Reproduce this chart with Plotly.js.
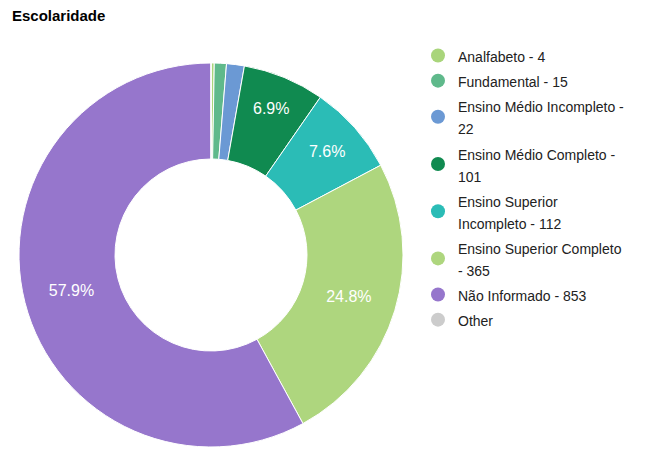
<!DOCTYPE html>
<html>
<head>
<meta charset="utf-8">
<script src="https://cdn.plot.ly/plotly-3.0.1.min.js"></script>
<style>html,body{margin:0;padding:0;background:#fff;}#chart{width:645px;height:450px;}</style>
</head>
<body>
<div id="chart"></div>
<script>
var categories = ["Analfabeto", "Fundamental", "Ensino Médio Incompleto", "Ensino Médio Completo", "Ensino Superior Incompleto", "Ensino Superior Completo", "Não Informado", "Other"];
var counts = [4, 15, 22, 101, 112, 365, 853, 0];
var showCount = [true, true, true, true, true, true, true, false];
var colors = ["#a9d57b", "#5fb98b", "#6b99d4", "#108a50", "#2bbcb6", "#aed67e", "#9676cc", "#cccccc"];

var total = counts.reduce(function(a, b){ return a + b; }, 0);

function wrap(s, maxChars) {
  var words = s.split(" "), lines = [], cur = "";
  words.forEach(function(w){
    var t = cur ? cur + " " + w : w;
    if (t.length > maxChars && cur) { lines.push(cur); cur = w; } else { cur = t; }
  });
  if (cur) lines.push(cur);
  return lines.join("<br>");
}

var legendLabels = categories.map(function(c, i){
  var s = showCount[i] ? c + " - " + counts[i] : c;
  return '<span style="font-size:14px">' + wrap(s, 25) + '</span>';
});

var templates = counts.map(function(v){ return (v / total >= 0.05) ? "%{percent:.1%}" : ""; });

var traces = [{
  type: "pie",
  labels: categories,
  values: counts,
  sort: false,
  direction: "clockwise",
  rotation: 0,
  hole: 0.5,
  marker: {colors: colors, line: {color: "#ffffff", width: 1}},
  texttemplate: templates,
  textposition: "inside",
  insidetextorientation: "horizontal",
  textfont: {family: "Liberation Sans, Arial, sans-serif", size: 16, color: "#ffffff"},
  showlegend: false,
  hoverinfo: "label+value+percent",
  domain: {x: [19/645, 403/645], y: [3/450, 387/450]}
}];

categories.forEach(function(c, i){
  traces.push({
    type: "scatter",
    mode: "markers",
    x: [null], y: [null],
    name: legendLabels[i],
    marker: {symbol: "circle", size: 14, color: colors[i], line: {width: 0}},
    showlegend: true,
    hoverinfo: "skip"
  });
});

var layout = {
  width: 645, height: 450,
  margin: {l: 0, r: 0, t: 0, b: 0},
  paper_bgcolor: "#ffffff",
  plot_bgcolor: "#ffffff",
  font: {family: "Liberation Sans, Arial, sans-serif", color: "#222222"},
  title: {
    text: "<b>Escolaridade</b>",
    x: 12/645, xanchor: "left", xref: "paper",
    y: 1 - 16/450, yanchor: "middle", yref: "container",
    font: {family: "Liberation Sans, Arial, sans-serif", size: 15, color: "#000000"}
  },
  xaxis: {visible: false, domain: [0.7, 0.71]},
  yaxis: {visible: false, domain: [0.0, 0.01]},
  showlegend: true,
  legend: {
    x: 418/645, xanchor: "left",
    y: 1 - 38/450, yanchor: "top",
    font: {family: "Liberation Sans, Arial, sans-serif", size: 17, color: "#222222"},
    bgcolor: "rgba(0,0,0,0)",
    itemclick: false, itemdoubleclick: false,
    traceorder: "normal"
  }
};

Plotly.newPlot("chart", traces, layout, {displayModeBar: false, staticPlot: true});
</script>
</body>
</html>
